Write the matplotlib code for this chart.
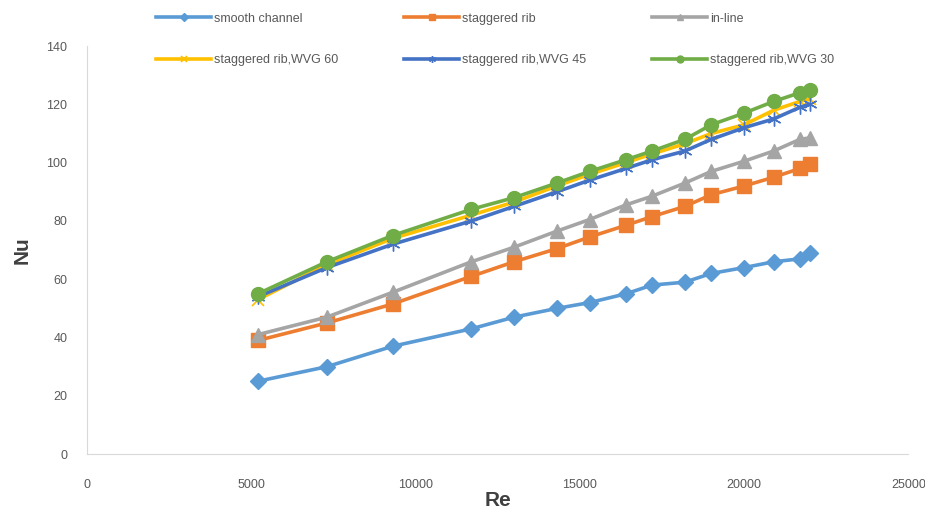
import numpy as np
import matplotlib.pyplot as plt

plt.rcParams['font.family'] = ['Liberation Sans', 'DejaVu Sans']

re = [5200, 7300, 9300, 11700, 13000, 14300, 15300, 16400, 17200, 18200,
      19000, 20000, 20900, 21700, 22000]

smooth = [25, 30, 37, 43, 47, 50, 52, 55, 58, 59, 62, 64, 66, 67, 69]
stag = [39, 45, 51.5, 61, 66, 70.5, 74.5, 78.5, 81.5, 85, 89, 92, 95, 98, 99.5]
inline = [41, 47, 55.5, 66, 71, 76.5, 80.5, 85.5, 88.5, 93, 97, 100.5, 104, 108, 108.5]
wvg60 = [53, 65, 74, 82, 86.5, 92, 96, 100, 103, 106.5, 110, 113, 118, 121, 122]
wvg45 = [54, 64, 72, 80, 85, 90, 94, 98, 101, 104, 108, 112, 115, 119, 120]
wvg30 = [55, 66, 75, 84, 88, 93, 97, 101, 104, 108, 113, 117, 121, 124, 125]

labels = ['smooth channel', 'staggered rib', 'in-line',
          'staggered rib,WVG 60', 'staggered rib,WVG 45', 'staggered rib,WVG 30']

fig = plt.figure(figsize=(9.25, 5.12), dpi=100)
ax = fig.add_axes([0.094, 0.113, 0.888, 0.797])

lw = 2.6
ax.plot(re, smooth, color='#5B9BD5', lw=lw, marker='D', ms=8, label=labels[0])
ax.plot(re, stag, color='#ED7D31', lw=lw, marker='s', ms=10, label=labels[1])
ax.plot(re, inline, color='#A5A5A5', lw=lw, marker='^', ms=10, label=labels[2])
ax.plot(re, wvg60, color='#FFC000', lw=lw, marker='x', ms=8, mew=1.2, label=labels[3])
ax.plot(re, wvg45, color='#4472C4', lw=lw, marker=(6, 2, 0), ms=10, mew=1.0, label=labels[4])
ax.plot(re, wvg30, color='#70AD47', lw=lw, marker='o', ms=10, label=labels[5])

ax.set_xlim(0, 25000)
ax.set_ylim(0, 140)
ax.set_xticks(np.arange(0, 25001, 5000))
ax.set_yticks(np.arange(0, 141, 20))
ax.tick_params(length=0, colors='#595959', labelsize=9)
ax.tick_params(axis='x', pad=18)
ax.tick_params(axis='y', pad=14)
for s in ['top', 'right']:
    ax.spines[s].set_visible(False)
for s in ['left', 'bottom']:
    ax.spines[s].set_color('#D9D9D9')

ax.set_xlabel('Re', fontsize=15, fontweight='bold', color='#404040', labelpad=0)
ax.set_ylabel('Nu', fontsize=15, fontweight='bold', color='#404040', labelpad=11)

h, l = ax.get_legend_handles_labels()
order = [0, 3, 1, 4, 2, 5]
fig.legend([h[i] for i in order], [l[i] for i in order], ncol=3,
           loc='upper left', bbox_to_anchor=(0.157, 0.997), frameon=False,
           fontsize=9, markerscale=0.5, handlelength=4.4, columnspacing=5.3,
           labelspacing=2.35, handletextpad=0.2, labelcolor='#595959')

fig.savefig('out.png', dpi=100)
